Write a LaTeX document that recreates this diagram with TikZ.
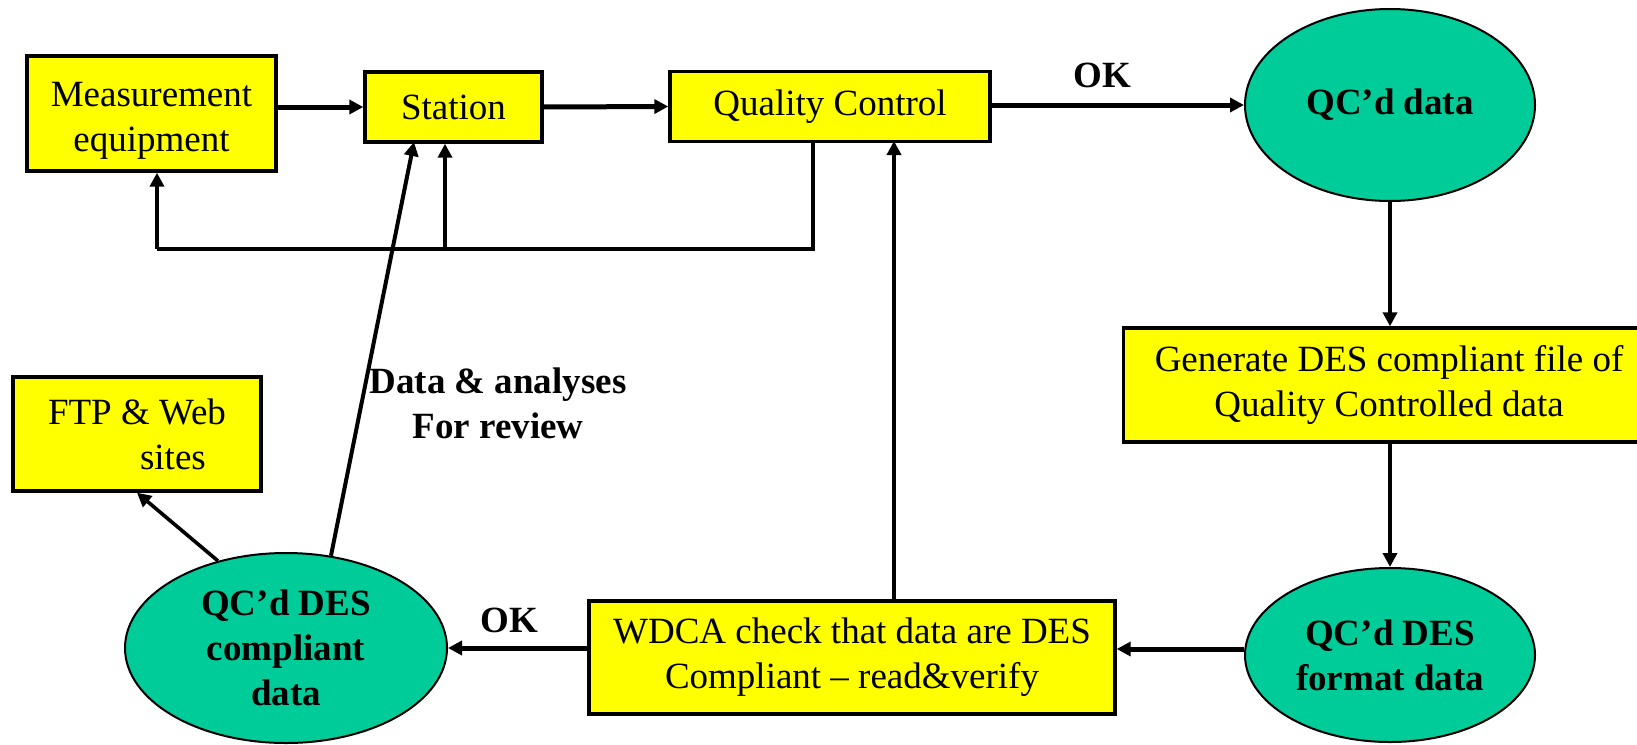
\documentclass[tikz,border=0pt]{standalone}
\usepackage{fontspec}
\setmainfont{Liberation Serif}
\usetikzlibrary{arrows.meta,shapes.geometric,calc}
\definecolor{boxyellow}{RGB}{255,255,0}
\definecolor{ellgreen}{RGB}{0,204,153}
\begin{document}
\begin{tikzpicture}[x=0.5pt,y=-0.5pt,
  every node/.style={font=\fontsize{18.5}{22.5}\selectfont},
  box/.style={draw, line width=1.7pt, fill=boxyellow, inner sep=0pt, align=center},
  ell/.style={ellipse, draw, line width=1pt, fill=ellgreen, inner sep=0pt, align=center,
              font=\fontsize{18.5}{22.5}\selectfont\bfseries},
  lbl/.style={align=center, font=\fontsize{18.5}{22.5}\selectfont\bfseries},
  arr/.style={line width=1.8pt, -{Triangle[length=7pt,width=7pt]}},
  heavy/.style={line width=2.5pt},
  thin/.style={line width=2pt}]
\useasboundingbox (0,0) rectangle (1637,744);
\clip (0,0) rectangle (1637,744);

% nodes
\node[box, minimum width=124.5pt, minimum height=57.5pt] (meas) at (151.5,113.5) {\raisebox{-3pt}[\height][\depth]{\begin{tabular}{@{}c@{}}Measurement\\equipment\end{tabular}}};
\node[box, minimum width=88.5pt, minimum height=35pt] (station) at (453.5,107) {Station};
\node[box, minimum width=160pt, minimum height=35pt] (qc) at (830,106.5) {Quality Control};
\node[ell, minimum width=145pt, minimum height=96pt] (qcdata) at (1390,105) {QC’d data};
\node[box, minimum width=265.5pt, minimum height=57pt] (gen) at (1389,385) {Generate DES compliant file of\\Quality Controlled data};
\node[ell, minimum width=145pt, minimum height=87pt] (fmt) at (1390,655) {QC’d DES\\format data};
\node[box, minimum width=263pt, minimum height=56.5pt] (wdca) at (852,657.5) {WDCA check that data are DES\\Compliant – read\&verify};
\node[ell, minimum width=161pt, minimum height=95pt] (comp) at (286,648) {QC’d DES\\compliant\\data};
\node[box, minimum width=124pt, minimum height=57pt, align=left] (ftp) at (137,434) {FTP \& Web\\\hspace*{46pt}sites};

% labels
\node[lbl] (ok1) at (1102,75) {OK};
\node[lbl] (ok2) at (509,620) {OK};
\node[lbl] (rev) at (498,403) {Data \& analyses\\For review};

% coordinates
\coordinate (fbR) at (813,249);
\coordinate (fbM) at (445,249);
\coordinate (fbL) at (157,249);
\coordinate (qcin) at (894,141);
\coordinate (stin) at (414,142);

% connectors
\draw[arr, heavy] (meas.east |- station.west) -- (station.west);
\draw[arr, heavy] (station.east) -- (qc.west);
\draw[arr, heavy] (qc.east |- qcdata.west) -- (qcdata.west);
\draw[thin] (qc.south -| fbR) -- (fbR) -- (fbL);
\draw[arr, thin] (fbL) -- (fbL |- meas.south);
\draw[arr, thin] (fbM) -- (fbM |- station.south);
\draw[arr] (wdca.north -| qcin) -- (qcin);
\draw[arr] (qcdata.south) -- (qcdata.south |- gen.north);
\draw[arr] (gen.south -| fmt.north) -- (fmt.north);
\draw[arr, heavy] ([yshift=3pt]fmt.west) -- ([yshift=3pt]fmt.west -| wdca.east);
\draw[arr, heavy] (wdca.west |- comp.east) -- (comp.east);
\draw[arr] (comp.128) -- (ftp.south);
\draw[arr, thin] (comp.64) -- (stin);
\end{tikzpicture}
\end{document}
